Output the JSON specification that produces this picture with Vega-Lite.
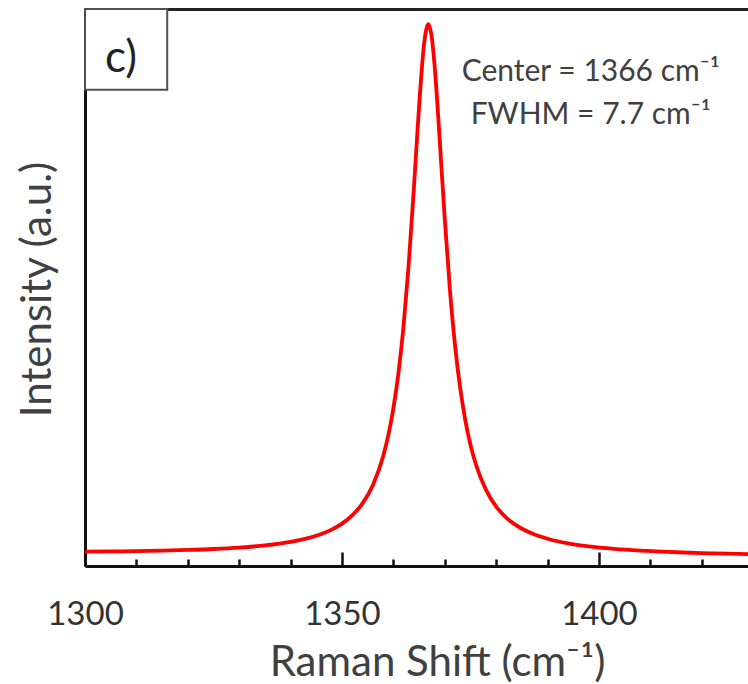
{
  "$schema": "https://vega.github.io/schema/vega-lite/v6.json",
  "width": 663,
  "height": 557,
  "autosize": {"type": "none"},
  "padding": {"left": 85, "top": 9, "right": 0, "bottom": 118},
  "background": "white",
  "config": {"view": {"stroke": null}, "font": "Lato"},
  "datasets": {
    "spec": [
      {"shift": 1300, "intensity": 0.0258},
      {"shift": 1305, "intensity": 0.0262},
      {"shift": 1310, "intensity": 0.0268},
      {"shift": 1315, "intensity": 0.0276},
      {"shift": 1320, "intensity": 0.0288},
      {"shift": 1325, "intensity": 0.0305},
      {"shift": 1330, "intensity": 0.0331},
      {"shift": 1335, "intensity": 0.037},
      {"shift": 1340, "intensity": 0.0433},
      {"shift": 1343, "intensity": 0.0491},
      {"shift": 1346, "intensity": 0.0575},
      {"shift": 1348, "intensity": 0.0654},
      {"shift": 1350, "intensity": 0.0761},
      {"shift": 1352, "intensity": 0.0909},
      {"shift": 1354, "intensity": 0.1124},
      {"shift": 1356, "intensity": 0.145},
      {"shift": 1358, "intensity": 0.1965},
      {"shift": 1359, "intensity": 0.2339},
      {"shift": 1360, "intensity": 0.2829},
      {"shift": 1361, "intensity": 0.3475},
      {"shift": 1362, "intensity": 0.433},
      {"shift": 1363, "intensity": 0.5437},
      {"shift": 1364, "intensity": 0.6795},
      {"shift": 1365, "intensity": 0.8248},
      {"shift": 1366, "intensity": 0.9393},
      {"shift": 1366.8, "intensity": 0.9727},
      {"shift": 1367.5, "intensity": 0.9469},
      {"shift": 1368, "intensity": 0.9008},
      {"shift": 1369, "intensity": 0.7674},
      {"shift": 1370, "intensity": 0.6226},
      {"shift": 1371, "intensity": 0.4961},
      {"shift": 1372, "intensity": 0.3958},
      {"shift": 1373, "intensity": 0.3194},
      {"shift": 1374, "intensity": 0.2615},
      {"shift": 1375, "intensity": 0.2175},
      {"shift": 1376, "intensity": 0.1839},
      {"shift": 1378, "intensity": 0.137},
      {"shift": 1380, "intensity": 0.1065},
      {"shift": 1382, "intensity": 0.0865},
      {"shift": 1384, "intensity": 0.0724},
      {"shift": 1387, "intensity": 0.0582},
      {"shift": 1390, "intensity": 0.0489},
      {"shift": 1394, "intensity": 0.0406},
      {"shift": 1398, "intensity": 0.0352},
      {"shift": 1403, "intensity": 0.0307},
      {"shift": 1408, "intensity": 0.0276},
      {"shift": 1414, "intensity": 0.0251},
      {"shift": 1420, "intensity": 0.0232},
      {"shift": 1429, "intensity": 0.0213}
    ]
  },
  "resolve": {"axis": {"x": "independent"}},
  "layer": [
    {
      "data": {"name": "spec"},
      "mark": {"type": "line", "color": "#ff0000", "strokeWidth": 3.8, "interpolate": "monotone", "clip": true},
      "encoding": {
        "x": {
          "field": "shift", "type": "quantitative",
          "scale": {"domain": [1300, 1429], "nice": false, "zero": false},
          "axis": {
            "values": [1300, 1350, 1400],
            "format": "d",
            "orient": "bottom",
            "domain": true, "domainColor": "#111111", "domainWidth": 3,
            "ticks": true, "tickSize": -14, "tickWidth": 2.5, "tickColor": "#111111",
            "grid": false,
            "labels": true, "labelFont": "Lato", "labelFontSize": 33, "labelColor": "#333333",
            "labelPadding": 46, "labelFlush": false, "labelOverlap": false,
            "title": "Raman Shift (cm⁻¹)",
            "titleFont": "Lato", "titleFontSize": 42, "titleFontWeight": "normal", "titleColor": "#404040",
            "titleX": 352, "titleY": 96, "titleBaseline": "middle", "titleAlign": "center"
          }
        },
        "y": {
          "field": "intensity", "type": "quantitative",
          "scale": {"domain": [0, 1], "nice": false, "zero": false},
          "axis": {
            "domain": true, "domainColor": "#111111", "domainWidth": 3,
            "ticks": false, "labels": false, "grid": false,
            "title": "Intensity (a.u.)",
            "titleFont": "Lato", "titleFontSize": 42, "titleFontWeight": "normal", "titleColor": "#404040",
            "titleX": -35, "titleY": 280, "titleBaseline": "alphabetic", "titleAlign": "center", "titleAngle": -90
          }
        }
      }
    },
    {
      "data": {"name": "spec"},
      "mark": {"type": "line", "strokeOpacity": 0},
      "encoding": {
        "x": {
          "field": "shift", "type": "quantitative",
          "axis": {
            "values": [1310, 1320, 1330, 1340, 1360, 1370, 1380, 1390, 1410, 1420],
            "orient": "bottom",
            "domain": false, "grid": false, "labels": false, "title": null,
            "ticks": true, "tickSize": -7, "tickWidth": 2.5, "tickColor": "#111111"
          }
        },
        "y": {"field": "intensity", "type": "quantitative"}
      }
    },
    {
      "data": {"name": "spec"},
      "mark": {"type": "line", "strokeOpacity": 0},
      "encoding": {
        "x": {
          "field": "shift", "type": "quantitative",
          "axis": {
            "orient": "top",
            "domain": true, "domainColor": "#222222", "domainWidth": 3,
            "grid": false, "labels": false, "ticks": false, "title": null
          }
        },
        "y": {"field": "intensity", "type": "quantitative"}
      }
    },
    {
      "data": {"values": [{"label": "c)"}]},
      "mark": {"type": "rect", "fill": "white", "stroke": "#505050", "strokeWidth": 2},
      "encoding": {
        "x": {"datum": 1300, "type": "quantitative", "axis": null},
        "x2": {"datum": 1316},
        "y": {"datum": 1, "type": "quantitative"},
        "y2": {"datum": 0.855}
      }
    },
    {
      "data": {"values": [{"label": "c)"}]},
      "mark": {"type": "text", "font": "Lato", "fontSize": 44, "color": "#222222", "align": "center", "baseline": "middle"},
      "encoding": {
        "x": {"datum": 1307, "type": "quantitative", "axis": null},
        "y": {"datum": 0.91, "type": "quantitative"},
        "text": {"field": "label"}
      }
    },
    {
      "data": {"values": [{"note": "fit"}]},
      "mark": {
        "type": "text", "font": "Lato", "fontSize": 30, "color": "#404040",
        "align": "center", "baseline": "middle", "lineHeight": 43,
        "text": ["Center = 1366 cm⁻¹", "FWHM = 7.7 cm⁻¹"]
      },
      "encoding": {
        "x": {"datum": 1398.4, "type": "quantitative", "axis": null},
        "y": {"datum": 0.887, "type": "quantitative"}
      }
    }
  ]
}
